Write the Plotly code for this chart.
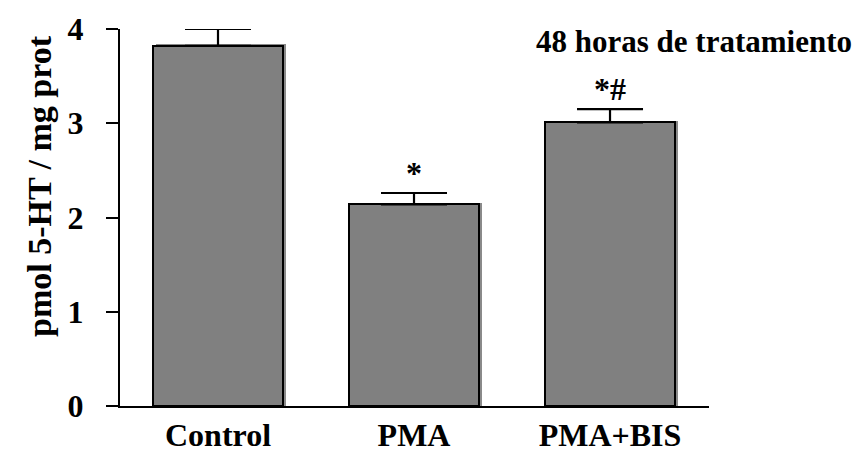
import plotly.graph_objects as go

categories = ["Control", "PMA", "PMA+BIS"]
values = [3.82, 2.14, 3.01]
errors = [0.18, 0.12, 0.14]
marks = ["", "*", "*#"]
y_ticks = [0, 1, 2, 3, 4]
title_text = "48 horas de tratamiento"
y_title = "pmol 5-HT / mg prot"

FONT = "Liberation Serif"
W, H = 864, 457
L, R, T, B = 120, 155, 29, 51
plot_w = W - L - R
plot_h = H - T - B
bar_w = 0.665
x_idx = list(range(len(categories)))

fig = go.Figure()
# subtle drop shadow behind bars
fig.add_trace(go.Bar(
    x=x_idx, y=[v + 4.0 * 1.5 / plot_h for v in values],
    width=bar_w, offset=-bar_w / 2 + 3.0 * 3 / plot_w,
    marker=dict(color="#8a8a8a", line=dict(width=0)),
    hoverinfo="skip", showlegend=False,
))
fig.add_trace(go.Bar(
    x=x_idx, y=values, width=bar_w,
    marker=dict(color="#808080", line=dict(color="black", width=2)),
    error_y=dict(type="data", array=errors, symmetric=False, arrayminus=[0] * 3,
                 color="black", thickness=2.2, width=33),
    showlegend=False,
))

for i, (v, e, m) in enumerate(zip(values, errors, marks)):
    if m:
        fig.add_annotation(x=i, y=v + e, text="<b>" + m + "</b>", showarrow=False,
                           yanchor="bottom", yshift=0,
                           font=dict(family=FONT, size=32, color="black"))

fig.add_annotation(xref="paper", yref="paper",
                   x=(694 - L) / plot_w, y=(H - B - 42) / plot_h,
                   text="<b>" + title_text + "</b>", showarrow=False,
                   xanchor="center", yanchor="middle",
                   font=dict(family=FONT, size=31, color="black"))
fig.add_annotation(xref="paper", yref="paper",
                   x=(39 - L) / plot_w, y=(H - B - 186) / plot_h,
                   text="<b>" + y_title + "</b>", showarrow=False, textangle=-90,
                   xanchor="center", yanchor="middle",
                   font=dict(family=FONT, size=34, color="black"))

fig.update_layout(
    template="none",
    width=W, height=H,
    margin=dict(l=L, r=R, t=T, b=B, pad=0, autoexpand=False),
    paper_bgcolor="white", plot_bgcolor="white",
    barmode="overlay", bargap=0,
    font=dict(family=FONT, color="black"),
)
fig.update_xaxes(
    range=[-0.5, 2.505], tickmode="array", tickvals=x_idx,
    ticktext=["<b>" + c + "</b>" for c in categories],
    tickfont=dict(family=FONT, size=32, color="black"),
    showline=True, linecolor="black", linewidth=2, ticks="",
    showgrid=False, zeroline=False, ticklabelstandoff=0, automargin=False,
)
fig.update_yaxes(
    range=[0, 4], tickmode="array", tickvals=y_ticks,
    ticktext=["<b>%d</b>" % t for t in y_ticks],
    tickfont=dict(family=FONT, size=32, color="black"),
    showline=True, linecolor="black", linewidth=2,
    ticks="outside", ticklen=12, tickwidth=2, tickcolor="black",
    showgrid=False, zeroline=False, ticklabelstandoff=16, automargin=False,
)

fig.write_html("out.html")
